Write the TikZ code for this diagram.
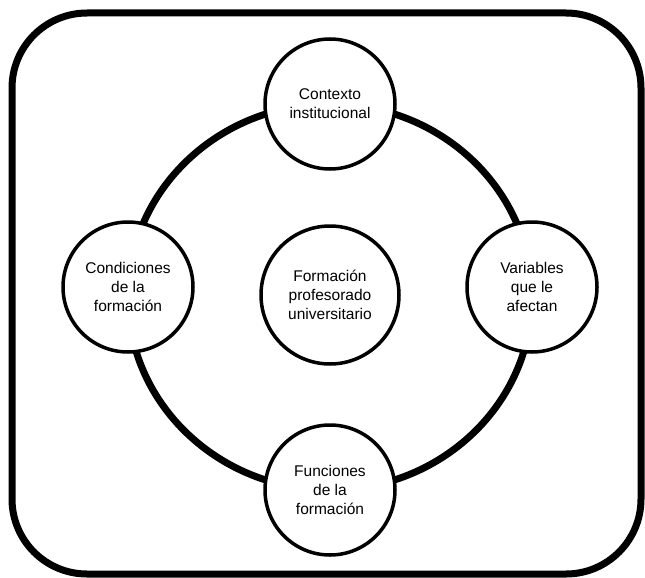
\documentclass[tikz,border=0pt]{standalone}
\usepackage{fontspec}
\setmainfont{Liberation Sans}
\usepackage{tikz}
\usetikzlibrary{positioning, calc}

\tikzset{
  tema/.style={circle, draw, line width=3.5pt, fill=white, minimum size=130pt,
    inner sep=0pt, align=center, font=\fontsize{15.5}{19}\selectfont},
  anillo/.style={line width=7pt},
  marco/.style={line width=7pt, rounded corners=75pt}
}

\begin{document}
\begin{tikzpicture}[x=1pt, y=-1pt]
        \useasboundingbox (0,0) rectangle (645,578);
        \draw[marco] (12,13) rectangle (641,574);

        % anillo que une los temas
        \coordinate (eje) at (330,297);
        \draw[anillo] (eje) ellipse [x radius=202, y radius=193];

        \node[tema, minimum size=138pt] (centro) at (330,295) {Formaci\'on\\profesorado\\universitario};

        \foreach \nombre/\pos/\texto in {arriba/{(330,104)}/{Contexto\\institucional},
                                         izq/{(128,287)}/{Condiciones\\de la\\formaci\'on},
                                         der/{(532,287)}/{Variables\\que le\\afectan},
                                         abajo/{(330,490)}/{Funciones\\de la\\formaci\'on}} {
          \node[tema] (\nombre) at \pos {\texto};
        }
      \end{tikzpicture}
\end{document}
